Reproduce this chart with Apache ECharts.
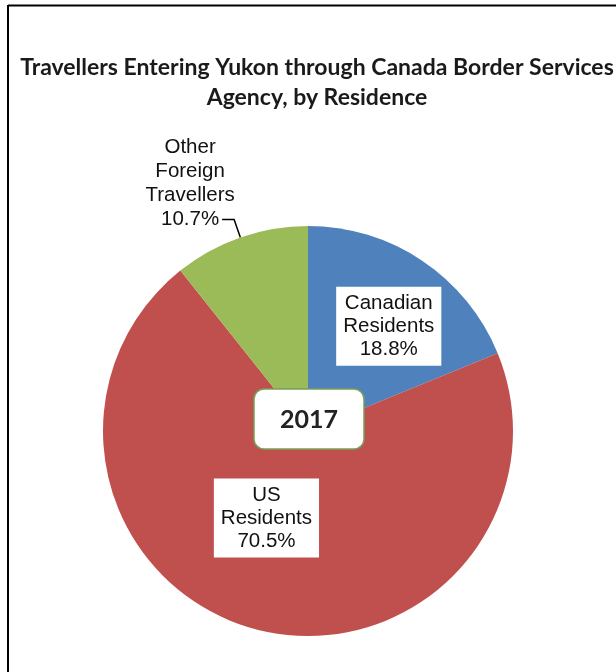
<!DOCTYPE html>
<html>
<head>
<meta charset="utf-8">
<script src="https://cdn.jsdelivr.net/npm/echarts@6/dist/echarts.min.js"></script>
<style>
html,body{margin:0;padding:0;background:#fff;}
#chart{width:616px;height:672px;}
</style>
</head>
<body>
<div id="chart"></div>
<script>
const titleText = 'Travellers Entering Yukon through Canada Border Services\nAgency, by Residence';
const yearLabel = '2017';
const categories = ['Canadian\nResidents', 'US\nResidents', 'Other\nForeign\nTravellers'];
const shares = [18.8, 70.5, 10.7];
const colors = ['#4F81BD', '#C0504D', '#9BBB59'];

const chart = echarts.init(document.getElementById('chart'), null, {renderer: 'canvas'});

const labelOffsets = [[22, -17], [-15, -15], [0, 0]];
const fontBase = { fontFamily: 'Liberation Sans, Arial', fontSize: 20.5, lineHeight: 23, color: '#111' };

const data = categories.map((c, i) => {
  const item = { name: c, value: shares[i], itemStyle: { color: colors[i] } };
  if (i < 2) {
    item.label = {
      position: 'inside',
      backgroundColor: '#fff',
      padding: [5, 7, 5, 7],
      formatter: p => p.name + '\n' + p.value.toFixed(1) + '%'
    };
    item.labelLine = { show: false };
  } else {
    item.label = {
      position: 'outside',
      distanceToLabelLine: -16,
      formatter: p => {
        const lines = (p.name + '\n' + p.value.toFixed(1) + '%').split('\n');
        const pad = lines.length - 1;
        const all = lines.concat(Array(pad).fill(' '));
        return all.map(l => '{c|' + l + '}').join('\n');
      },
      rich: {
        c: Object.assign({}, fontBase, { width: 96, align: 'center', lineHeight: 24 })
      }
    };
    item.labelLine = { show: true, length: 19, length2: 12, lineStyle: { color: '#000', width: 1.5 } };
  }
  return item;
});

chart.setOption({
  animation: false,
  backgroundColor: '#fff',
  title: {
    text: titleText,
    left: 312,
    top: 48,
    textAlign: 'center',
    textStyle: {
      fontFamily: 'Lato',
      fontWeight: 'bold',
      fontSize: 23,
      lineHeight: 30,
      color: '#1a1a1a'
    }
  },
  graphic: [
    { type: 'line', shape: { x1: 8, y1: 5.5, x2: 616, y2: 5.5 }, style: { stroke: '#000', lineWidth: 2 } },
    { type: 'line', shape: { x1: 8, y1: 5, x2: 8, y2: 672 }, style: { stroke: '#000', lineWidth: 2 } },
    { type: 'rect', z: 100, shape: { x: 254, y: 389, width: 110, height: 60, r: 10 }, style: { fill: '#fff', stroke: '#77A058', lineWidth: 1.5 } },
    { type: 'text', z: 101, x: 309, y: 420, style: { text: yearLabel, fill: '#222', font: 'bold 25px Lato', align: 'center', verticalAlign: 'middle' } }
  ],
  series: [{
    type: 'pie',
    center: [308, 431],
    radius: 205,
    startAngle: 90,
    clockwise: true,
    avoidLabelOverlap: false,
    label: Object.assign({ show: true, align: 'center' }, fontBase),
    labelLayout: function (params) {
      if (params.dataIndex === 2) return {};
      const o = labelOffsets[params.dataIndex];
      return { dx: o[0], dy: o[1] };
    },
    data: data
  }]
});
</script>
</body>
</html>
